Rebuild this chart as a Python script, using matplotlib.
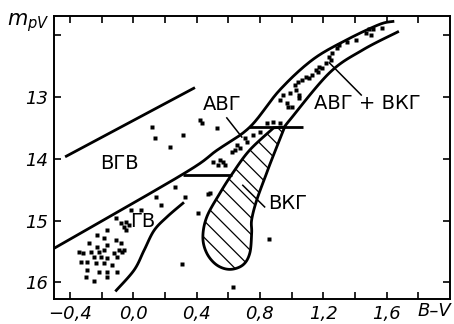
import numpy as np
import matplotlib
matplotlib.use("Agg")
import matplotlib.pyplot as plt

plt.rcParams['font.family'] = ['DejaVu Sans']
plt.rcParams['hatch.linewidth'] = 0.9

# границы областей на диаграмме (B-V, m_pV)
line_top_bv = [-0.43, 0.39]
line_top_m = [13.97, 12.85]

upper_bv = [-0.50, 0.314, 0.528, 0.736, 0.925, 1.132, 1.346, 1.553, 1.64]
upper_m = [15.45, 14.25, 13.865, 13.49, 12.89, 12.40, 12.08, 11.83, 11.78]

lower_bv = [0.956, 0.99, 1.24, 1.45, 1.67]
lower_m = [13.49, 13.37, 12.61, 12.24, 11.95]

gv_bv = [-0.107, 0.006, 0.069, 0.132, 0.214, 0.314]
gv_m = [16.13, 15.80, 15.48, 15.16, 14.94, 14.72]

blob_bv = [0.887, 0.736, 0.629, 0.547, 0.465, 0.44, 0.465, 0.528, 0.61,
           0.692, 0.736, 0.748, 0.748, 0.78, 0.843, 0.874, 0.956]
blob_m = [13.50, 13.86, 14.23, 14.56, 14.94, 15.27, 15.53, 15.72, 15.79,
          15.72, 15.53, 15.20, 14.99, 14.67, 14.23, 14.02, 13.49]

hlines = [(14.26, 0.314, 0.625), (13.49, 0.73, 1.07)]

# звёзды
stars_bv = [0.145, 0.176, 0.05, -0.013, -0.107, -0.075, -0.044, -0.025, -0.057,
            -0.044, -0.164, -0.226, -0.182, -0.107, -0.075, -0.277, -0.226,
            -0.164, -0.34, -0.32, -0.264, -0.214, -0.182, -0.088, -0.069,
            -0.057, -0.12, -0.245, -0.201, -0.164, -0.101, -0.327, -0.289,
            -0.233, -0.182, -0.132, -0.289, -0.214, -0.164, -0.101, -0.30,
            -0.245, -0.164,
            0.264, 0.472, 0.409, 0.308, 0.327, 0.484, 0.855, 0.629,
            0.119, 0.138, 0.233, 0.314, 0.421, 0.434, 0.528,
            0.503, 0.535, 0.704, 0.717, 0.654, 0.673, 0.642, 0.623, 0.547,
            0.566, 0.579, 0.799, 0.755, 0.843, 0.881, 0.925, 0.975, 0.925,
            0.943, 1.05,
            0.987, 0.969, 1.031, 1.038, 1.069, 1.094, 1.113, 1.132, 1.157,
            1.164, 1.176, 1.195, 1.22, 1.239, 1.252, 1.258, 1.289, 1.302,
            1.352, 1.409, 1.472, 1.503, 1.491, 1.572, 1.0, 1.05, 1.019, 1.516]
stars_m = [14.62, 14.75, 14.83, 14.83, 14.96, 15.04, 15.03, 15.07, 15.11,
           15.16, 15.16, 15.24, 15.29, 15.32, 15.37, 15.37, 15.43,
           15.40, 15.51, 15.53, 15.51, 15.51, 15.48, 15.48, 15.51,
           15.48, 15.53, 15.59, 15.59, 15.61, 15.59, 15.67, 15.67,
           15.69, 15.69, 15.72, 15.80, 15.84, 15.84, 15.84, 15.92,
           15.97, 15.92,
           14.46, 14.57, 14.88, 15.71, 14.62, 14.56, 15.30, 16.08,
           13.49, 13.66, 13.81, 13.62, 13.37, 13.42, 13.50,
           14.05, 14.10, 13.66, 13.73, 13.78, 13.83, 13.86, 13.89, 14.02,
           14.05, 14.10, 13.57, 13.62, 13.42, 13.41, 13.42, 13.16, 13.05,
           12.97, 12.97,
           12.94, 13.10, 12.89, 12.76, 12.72, 12.68, 12.69, 12.64, 12.56,
           12.59, 12.51, 12.53, 12.45, 12.35, 12.40, 12.29, 12.21, 12.16,
           12.12, 12.08, 11.96, 12.00, 11.91, 11.88, 13.16, 13.02, 12.81, 11.91]

labels = ["ВГВ", "ГВ", "АВГ", "АВГ + ВКГ", "ВКГ"]
label_bv = [-0.09, 0.063, 0.56, 1.478, 0.975]
label_m = [14.07, 15.01, 13.13, 13.11, 14.73]

leaders = [((0.591, 13.34), (0.686, 13.65)),
           ((1.44, 12.97), (1.239, 12.45)),
           ((0.83, 14.78), (0.692, 14.43))]


def smooth(xs, ys, n=24):
    # сплайн Кэтмелла-Рома через опорные точки
    p = np.column_stack([xs, ys]).astype(float)
    p = np.vstack([p[0], p, p[-1]])
    t = np.linspace(0, 1, n, endpoint=False)[:, None]
    out = []
    for i in range(1, len(p) - 2):
        p0, p1, p2, p3 = p[i - 1], p[i], p[i + 1], p[i + 2]
        out.append(0.5 * (2 * p1 + (p2 - p0) * t
                          + (2 * p0 - 5 * p1 + 4 * p2 - p3) * t ** 2
                          + (3 * p1 - p0 - 3 * p2 + p3) * t ** 3))
    out.append(p[-2][None])
    c = np.vstack(out)
    return c[:, 0], c[:, 1]


fig = plt.figure(figsize=(4.54, 3.24), dpi=100)
ax = fig.add_axes([0.119, 0.077, 0.872, 0.874])

lw = 2.0
ax.plot(line_top_bv, line_top_m, color='black', lw=lw, solid_capstyle='butt')
ax.plot(*smooth(upper_bv, upper_m), color='black', lw=lw)
ax.plot(*smooth(lower_bv, lower_m), color='black', lw=lw)
ax.plot(*smooth(gv_bv, gv_m), color='black', lw=lw)
for y, x0, x1 in hlines:
    ax.plot([x0, x1], [y, y], color='black', lw=lw, solid_capstyle='butt')

bx, by = smooth(blob_bv, blob_m)
ax.fill(bx, by, facecolor='white', edgecolor='black', hatch='\\\\', lw=lw)

ax.plot(stars_bv, stars_m, 's', ms=2.3, color='black', mec='none')

for txt, x, y in zip(labels, label_bv, label_m):
    ax.text(x, y, txt, fontsize=14, ha='center', va='center')
for (x0, y0), (x1, y1) in leaders:
    ax.plot([x0, x1], [y0, y1], color='black', lw=1.1)

ax.set_xlim(-0.5, 2.0)
ax.set_ylim(16.27, 11.69)

xt = np.round(np.arange(-0.4, 1.81, 0.2), 1)
ax.set_xticks(xt)
ax.set_xticklabels([(f"{v:.1f}".replace('.', ',').replace('-', '\u2212')
                     if i % 2 == 0 else '') for i, v in enumerate(xt)])
ax.set_yticks([12, 13, 14, 15, 16])
ax.set_yticklabels(['', '13', '14', '15', '16'])

ax.tick_params(direction='in', length=5, width=1.2, top=True, right=True,
               labelsize=13, pad=4)
for lab in ax.get_xticklabels() + ax.get_yticklabels():
    lab.set_fontstyle('italic')
for s in ax.spines.values():
    s.set_linewidth(1.4)

ax.text(1.9, 16.31, 'B\u2013V', fontsize=13, fontstyle='italic',
        ha='center', va='top')
fig.text(0.015, 0.965, r'$m_{pV}$', fontsize=15, ha='left', va='top')

fig.savefig("out.png", dpi=100)
